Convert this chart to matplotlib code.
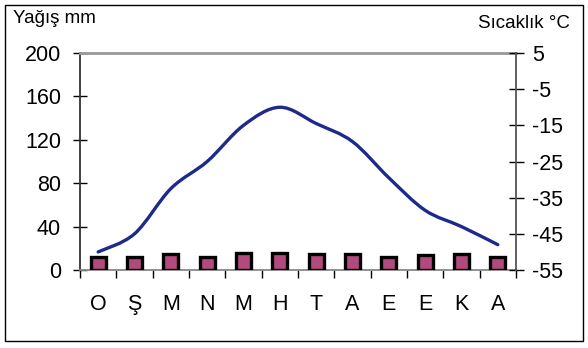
import matplotlib
matplotlib.use("Agg")
import matplotlib.pyplot as plt
import numpy as np
from matplotlib.path import Path
from matplotlib.patches import PathPatch, Rectangle

plt.rcParams['font.family'] = ['Liberation Sans', 'DejaVu Sans']
plt.rcParams['axes.unicode_minus'] = False

# data
months = ["O", "Ş", "M", "N", "M", "H", "T", "A", "E", "E", "K", "A"]
precip_mm = [12, 12, 15, 12, 16, 16, 15, 15, 12, 14, 15, 12]
temp_c = [-50, -45, -32.5, -25, -15, -10, -14.5, -19.5, -29.5, -38.5, -43, -48]


def smooth_path(xs, ys):
    # bezier path through every point (like a spreadsheet "smoothed line")
    pts = np.column_stack([xs, ys]).astype(float)
    padded = np.vstack([pts[0], pts, pts[-1]])
    verts = [pts[0]]
    codes = [Path.MOVETO]
    for i in range(len(pts) - 1):
        p0, p1, p2, p3 = padded[i], padded[i + 1], padded[i + 2], padded[i + 3]
        verts += [p1 + (p2 - p0) / 6, p2 - (p3 - p1) / 6, p2]
        codes += [Path.CURVE4] * 3
    return Path(verts, codes)


fig = plt.figure(figsize=(5.88, 3.48), dpi=100)
ax = fig.add_axes([80 / 588, 78 / 348, 436 / 588, 217 / 348])
ax2 = ax.twinx()

x = np.arange(len(months))
ax.bar(x, precip_mm, width=0.42, color="#B34A7D", edgecolor="black",
       linewidth=2.4, zorder=3)

ax2.add_patch(PathPatch(smooth_path(x, temp_c), facecolor="none",
                        edgecolor="#1C2A8C", linewidth=2.4, capstyle="round"))

ax.set_xlim(-0.5, 11.5)
ax.set_ylim(0, 200)
ax2.set_ylim(-55, 5)

# spines
ax.spines["top"].set_color("#999999")
ax.spines["top"].set_linewidth(2)
ax.spines["left"].set_color("#333333")
ax.spines["left"].set_linewidth(1.3)
ax.spines["bottom"].set_color("#888888")
ax.spines["bottom"].set_linewidth(1.3)
ax.spines["right"].set_visible(False)
for s in ["top", "left", "bottom"]:
    ax2.spines[s].set_visible(False)
ax2.spines["right"].set_color("#555555")
ax2.spines["right"].set_linewidth(1.3)

# x ticks: marks between months, labels at centres
ax.set_xticks(np.arange(-0.5, 12, 1))
ax.set_xticklabels([])
ax.set_xticks(x, minor=True)
ax.set_xticklabels(months, minor=True)
ax.tick_params(axis="x", which="major", direction="out", length=5.5,
               width=1, color="black")
ax.tick_params(axis="x", which="minor", length=0, pad=17, labelsize=15.5)

ax.set_yticks(np.arange(0, 201, 40))
ax.tick_params(axis="y", direction="inout", length=9.4, width=1,
               color="black", pad=9, labelsize=15.5)
ax2.set_yticks(np.arange(-55, 6, 10))
ax2.tick_params(axis="y", direction="inout", length=10.8, width=1,
                color="black", pad=6, labelsize=15.5)

fig.text(13 / 588, 1 - 22.7 / 348, "Yağış mm", fontsize=13.5,
         ha="left", va="baseline")
fig.text(570 / 588, 1 - 28.3 / 348, "Sıcaklık °C", fontsize=13.5,
         ha="right", va="baseline")

fig.patches.append(Rectangle((5 / 588, 7.5 / 348), 577.5 / 588, 335.5 / 348,
                             transform=fig.transFigure, fill=False,
                             edgecolor="black", linewidth=1))

fig.savefig("out.png", dpi=100)
plt.close(fig)
